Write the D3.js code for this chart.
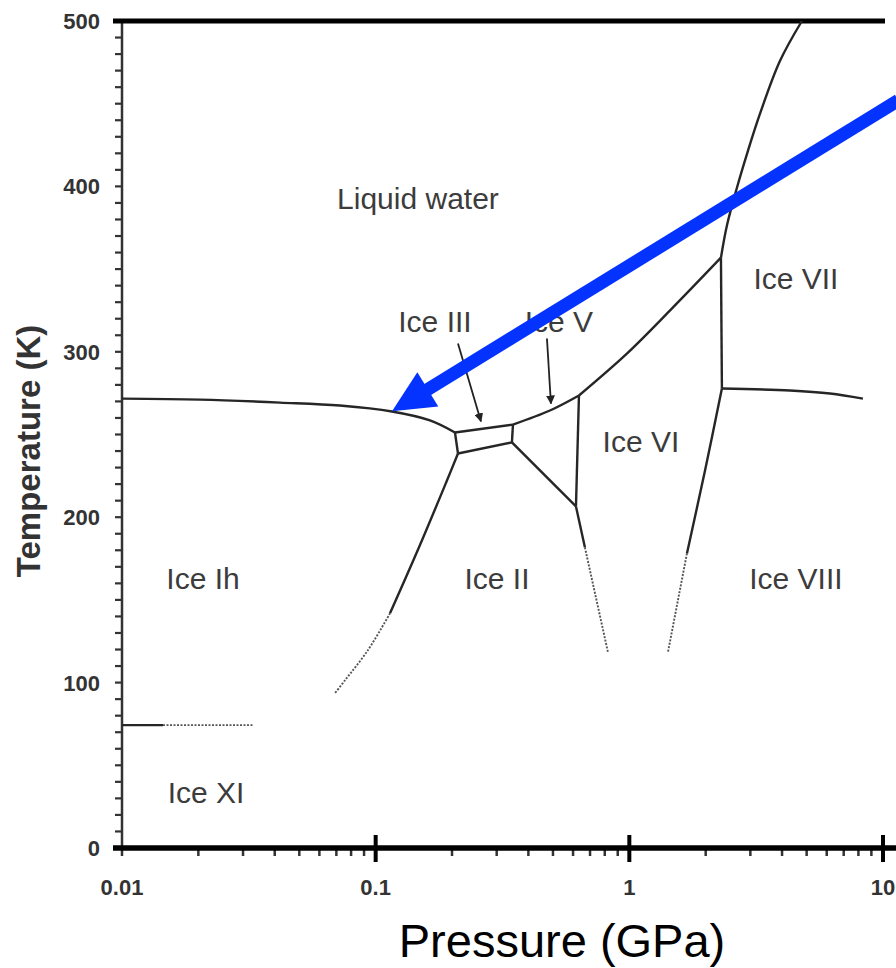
<!DOCTYPE html>
<html>
<head>
<meta charset="utf-8">
<script src="https://cdn.jsdelivr.net/npm/d3@7"></script>
<style>
  html, body { margin: 0; padding: 0; background: #fff; }
  svg { display: block; font-family: "Liberation Sans", Arial, Helvetica, sans-serif; }
</style>
</head>
<body>
<svg id="chart" width="896" height="968"></svg>
<script>
// pressure in GPa, temperature in K

const xTickValues = [0.01, 0.1, 1, 10];
const xTickLabels = ['0.01', '0.1', '1', '10'];
const yTickValues = [0, 100, 200, 300, 400, 500];
const yTickLabels = ['0', '100', '200', '300', '400', '500'];

// phase boundaries, solid parts
const ihMelt = [[0.01, 271.7], [0.0203, 271.1], [0.042, 269.3], [0.0723, 267.5], [0.1159, 263.9], [0.1637, 258.5], [0.2054, 251.2]];
const iiiMelt = [[0.2054, 251.2], [0.3477, 256.0]];
const ihIII = [[0.2054, 251.2], [0.2111, 238.5]];
const iiIII = [[0.2111, 238.5], [0.3445, 245.2]];
const iiiV = [[0.3477, 256.0], [0.3445, 245.2]];
const vMelt = [[0.3477, 256.0], [0.4864, 264.5], [0.633, 273.6]];
const viMelt = [[0.633, 273.6], [0.978, 298.9], [1.445, 324.9], [2.297, 356.9]];
const vVI = [[0.633, 273.6], [0.616, 206.5]];
const iiV = [[0.3445, 245.2], [0.616, 206.5]];
const iiVI = [[0.616, 206.5], [0.668, 181.8]];
const ihII = [[0.2111, 238.5], [0.191, 222.2], [0.1482, 181.8], [0.1139, 141.9]];
const viVII = [[2.297, 356.9], [2.317, 277.8]];
const viiVIII = [[2.317, 277.8], [4.296, 276.6], [6.176, 274.8], [8.333, 271.7]];
const viVIII = [[2.317, 277.8], [1.988, 228.3], [1.687, 178.1]];
const viiMelt = [[2.297, 356.9], [2.424, 376.2], [2.656, 399.2], [2.935, 421.5], [3.272, 443.8], [3.923, 475.8], [4.79, 500]];
const ihXI = [[0.01, 74.3], [0.01451, 74.3]];

// extrapolated (dotted) parts
const iiVIExt = [[0.668, 181.8], [0.8235, 118.4]];
const ihIIExt = [[0.1139, 141.9], [0.0932, 119.6], [0.0757, 101.4], [0.0691, 93.6]];
const viVIIIExt = [[1.687, 178.1], [1.42, 118.4]];
const ihXIExt = [[0.01451, 74.3], [0.03284, 74.3]];

const phaseNames = ['Liquid water', 'Ice III', 'Ice V', 'Ice VII', 'Ice VI', 'Ice Ih', 'Ice II', 'Ice VIII', 'Ice XI'];
const phaseP = [0.1468, 0.1713, 0.5277, 4.536, 1.111, 0.02086, 0.3007, 4.536, 0.02144];
const phaseT = [393, 318.8, 318.8, 344.2, 245.8, 163.0, 163.0, 163.0, 33.8];

// small pointer arrows for Ice III and Ice V  [from, to]
const pointers = [
    [[0.2111, 305], [0.2601, 257.9]],
    [[0.4733, 308], [0.4910, 268.7]],
];

// big blue arrow pointing at the Ih melting line
const blueArrowTail = [11.5, 452];
const blueArrowTip = [0.116, 264];

const svg = d3.select('#chart');

const x = d3.scaleLog().domain([0.01, 10]).range([122, 883]);
const y = d3.scaleLinear().domain([0, 500]).range([848, 21]);

const line = d3.line()
    .x((d) => x(d[0]))
    .y((d) => y(d[1]))
    .curve(d3.curveCatmullRom.alpha(0.5));

svg.append('defs')
    .append('marker')
    .attr('id', 'head')
    .attr('viewBox', '0 0 10 10')
    .attr('refX', 9)
    .attr('refY', 5)
    .attr('markerWidth', 9)
    .attr('markerHeight', 9)
    .attr('markerUnits', 'userSpaceOnUse')
    .attr('orient', 'auto')
    .append('path')
    .attr('d', 'M0,0 L10,5 L0,10 z')
    .attr('fill', '#222');

// left axis: line + ticks every 10 K
const leftAxis = svg.append('g');
leftAxis.append('line')
    .attr('x1', x(0.01)).attr('x2', x(0.01))
    .attr('y1', y(0)).attr('y2', y(500))
    .attr('stroke', '#333').attr('stroke-width', 2.5);
leftAxis.selectAll('line.tick')
    .data(d3.range(0, 501, 10))
    .enter()
    .append('line')
    .attr('class', 'tick')
    .attr('x1', x(0.01) - 7).attr('x2', x(0.01))
    .attr('y1', (d) => y(d)).attr('y2', (d) => y(d))
    .attr('stroke', '#333').attr('stroke-width', 2.2);
leftAxis.selectAll('text')
    .data(yTickValues)
    .enter()
    .append('text')
    .attr('x', 100)
    .attr('y', (d) => y(d))
    .attr('dy', '0.36em')
    .attr('text-anchor', 'end')
    .attr('font-size', '22px')
    .attr('font-weight', 'bold')
    .attr('fill', '#333')
    .text((d, i) => yTickLabels[i]);

// top border
svg.append('line')
    .attr('x1', 113).attr('x2', x(10) + 2)
    .attr('y1', y(500)).attr('y2', y(500))
    .attr('stroke', '#000').attr('stroke-width', 5);

// bottom axis
const bottomAxis = svg.append('g');
let minorX = [];
[0.01, 0.1, 1].forEach((dec) => {
    for (let k = 1; k <= 9; k++) minorX.push(dec * k);
});
bottomAxis.selectAll('line.minor')
    .data(minorX)
    .enter()
    .append('line')
    .attr('class', 'minor')
    .attr('x1', (d) => x(d)).attr('x2', (d) => x(d))
    .attr('y1', y(0)).attr('y2', y(0) + 8)
    .attr('stroke', '#333').attr('stroke-width', 2.5);
bottomAxis.append('line')
    .attr('x1', 113).attr('x2', 896)
    .attr('y1', y(0)).attr('y2', y(0))
    .attr('stroke', '#000').attr('stroke-width', 5.5);
bottomAxis.selectAll('line.major')
    .data(xTickValues.slice(1))
    .enter()
    .append('line')
    .attr('class', 'major')
    .attr('x1', (d) => x(d)).attr('x2', (d) => x(d))
    .attr('y1', y(0) - 13).attr('y2', y(0) + 14)
    .attr('stroke', '#000').attr('stroke-width', 4);
bottomAxis.selectAll('text')
    .data(xTickValues)
    .enter()
    .append('text')
    .attr('x', (d) => x(d))
    .attr('y', 895)
    .attr('text-anchor', 'middle')
    .attr('font-size', '22px')
    .attr('font-weight', 'bold')
    .attr('fill', '#333')
    .text((d, i) => xTickLabels[i]);

// axis titles
svg.append('text')
    .attr('transform', 'translate(40,451) rotate(-90)')
    .attr('text-anchor', 'middle')
    .attr('font-size', '33px')
    .attr('font-weight', 'bold')
    .attr('fill', '#333')
    .text('Temperature (K)');
svg.append('text')
    .attr('x', 562)
    .attr('y', 957)
    .attr('text-anchor', 'middle')
    .attr('font-size', '47px')
    .attr('fill', '#000')
    .text('Pressure (GPa)');

// phase boundaries
const solidLines = [ihMelt, iiiMelt, ihIII, iiIII, iiiV, vMelt, viMelt, vVI, iiV, iiVI, ihII, viVII, viiVIII, viVIII, viiMelt, ihXI];
const dottedLines = [iiVIExt, ihIIExt, viVIIIExt, ihXIExt];

svg.append('g').selectAll('path')
    .data(solidLines)
    .enter()
    .append('path')
    .attr('d', line)
    .attr('fill', 'none')
    .attr('stroke', '#262626')
    .attr('stroke-width', 2.4)
    .attr('stroke-linejoin', 'round');

svg.append('g').selectAll('path')
    .data(dottedLines)
    .enter()
    .append('path')
    .attr('d', line)
    .attr('fill', 'none')
    .attr('stroke', '#555')
    .attr('stroke-width', 1.9)
    .attr('stroke-dasharray', '2,1.5');

// phase labels
svg.append('g').selectAll('text')
    .data(phaseNames)
    .enter()
    .append('text')
    .attr('x', (d, i) => x(phaseP[i]))
    .attr('y', (d, i) => y(phaseT[i]))
    .attr('dy', '0.36em')
    .attr('text-anchor', 'middle')
    .attr('font-size', '30px')
    .attr('fill', '#3c3c3c')
    .text((d) => d);

// pointer arrows
svg.append('g').selectAll('line')
    .data(pointers)
    .enter()
    .append('line')
    .attr('x1', (d) => x(d[0][0])).attr('y1', (d) => y(d[0][1]))
    .attr('x2', (d) => x(d[1][0])).attr('y2', (d) => y(d[1][1]))
    .attr('stroke', '#222')
    .attr('stroke-width', 1.8)
    .attr('marker-end', 'url(#head)');

// big blue arrow
const tx = x(blueArrowTip[0]), ty = y(blueArrowTip[1]);
const sx = x(blueArrowTail[0]), sy = y(blueArrowTail[1]);
const len = Math.hypot(sx - tx, sy - ty);
const ux = (sx - tx) / len, uy = (sy - ty) / len; // unit vector tip -> tail
const headLen = 42, headHalf = 20;
const bx = tx + ux * headLen, by = ty + uy * headLen;
const blue = '#0433ff';
svg.append('line')
    .attr('x1', sx).attr('y1', sy)
    .attr('x2', bx - ux * 4).attr('y2', by - uy * 4)
    .attr('stroke', blue)
    .attr('stroke-width', 13);
svg.append('path')
    .attr('d', `M${tx},${ty} L${bx - uy * headHalf},${by + ux * headHalf} L${bx + uy * headHalf},${by - ux * headHalf} Z`)
    .attr('fill', blue);
</script>
</body>
</html>
